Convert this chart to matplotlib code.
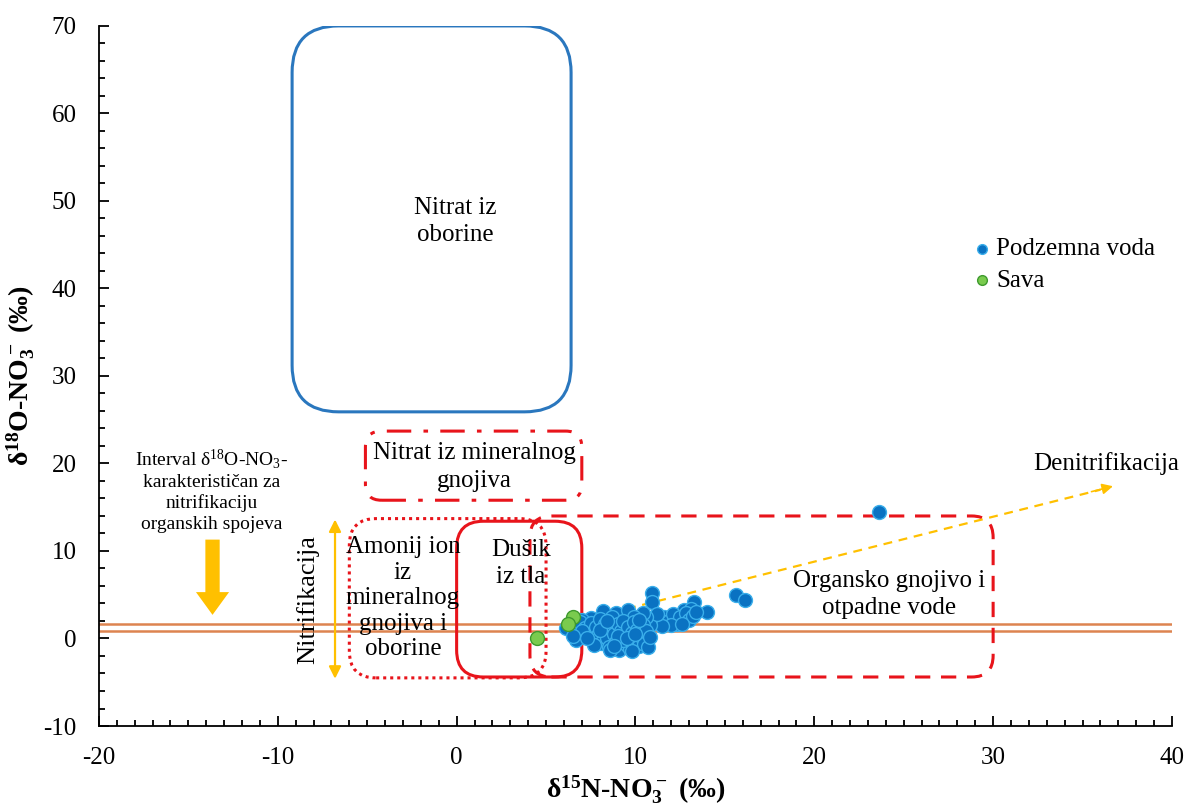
import numpy as np
import matplotlib
matplotlib.use("Agg")
import matplotlib.pyplot as plt
from matplotlib.patches import FancyBboxPatch, FancyArrow

plt.rcParams['font.family'] = ['Liberation Serif', 'DejaVu Serif']
plt.rcParams['mathtext.default'] = 'regular'
plt.rcParams['axes.unicode_minus'] = False

# groundwater samples (d15N, d18O)
gw_x = [23.6, 15.6, 16.1, 10.9, 10.9, 13.3, 12.7, 14.0, 13.1,
        11.0, 11.3, 11.6, 11.9, 12.1, 12.3, 12.5, 12.8, 13.0, 13.2, 12.0,
        11.5, 10.8, 12.6, 13.4, 11.2, 10.6,
        8.9, 8.2, 9.6, 10.4, 9.9, 7.5, 7.0,
        6.1, 6.6, 6.8, 6.9, 7.1, 7.2, 7.4, 7.5, 7.6, 7.8, 7.9, 8.0, 8.1,
        8.2, 8.3, 8.4, 8.5, 8.6, 8.7, 8.8, 8.9, 9.0, 9.1, 9.2, 9.3, 9.4,
        9.5, 9.6, 9.7, 9.8, 9.9, 10.0, 10.1, 10.2, 10.3, 10.4, 10.5, 10.6,
        10.7, 10.8, 6.7, 8.6, 9.8, 7.0, 9.3, 8.0, 10.2, 9.0, 8.4, 7.7, 9.5,
        10.0, 8.8, 7.3, 6.5]
gw_y = [14.4, 5.0, 4.4, 5.2, 4.2, 4.2, 3.3, 3.0, 3.4,
        2.2, 1.8, 2.5, 2.0, 2.8, 1.7, 2.4, 2.9, 2.1, 2.6, 1.5,
        1.4, 1.5, 1.6, 3.0, 2.8, 2.5,
        2.9, 3.1, 3.2, 2.9, 2.5, 2.3, 2.1,
        1.2, 1.4, 0.6, 1.9, 0.2, 1.2, 0.7, 1.8, -0.2, 1.3, 0.4, 2.2, -0.5,
        0.9, 1.7, 0.1, -1.0, 1.2, 2.4, 0.5, -0.4, 1.6, -1.3, 0.9, 2.0, 0.2,
        -0.7, 1.3, -1.2, 0.6, 1.9, -0.3, 1.0, -0.9, 0.3, 1.5, -0.6, 0.8,
        -1.0, 0.2, -0.2, -1.3, -1.4, 0.9, -0.2, 1.0, 2.1, 0.3, 2.0, -0.8, 0.0,
        0.5, -0.9, 0.0, 0.3]

# Sava river samples
sava_x = [6.5, 6.2, 4.5]
sava_y = [2.5, 1.7, 0.1]

# nitrification interval of d18O-NO3
nitr_interval = [0.8, 1.7]

# source boxes: (x0, x1, y0, y1)
box_rain = (-9.2, 6.4, 25.9, 70.0)
box_fert = (-5.1, 7.0, 15.8, 23.7)
box_amon = (-6.0, 5.0, -4.5, 13.7)
box_soil = (0.0, 7.0, -4.4, 13.4)
box_org = (4.1, 30.0, -4.4, 14.0)

red = '#E8141B'
blue_box = '#2A77BE'
gold = '#FFC000'
orange = '#DD8450'

fig = plt.figure(figsize=(11.88, 8.1), dpi=100)
ax = fig.add_axes([0.0833, 0.1037, 0.9032, 0.8643])
ax.set_xlim(-20, 40)
ax.set_ylim(-10, 70)

asp = 17.88 / 8.75


def box(b, r, **kw):
    x0, x1, y0, y1 = b
    p = FancyBboxPatch((x0, y0), x1 - x0, y1 - y0,
                       boxstyle=f"round,pad=0,rounding_size={r}",
                       mutation_aspect=asp, fill=False, **kw)
    ax.add_patch(p)


box(box_rain, 2.6, edgecolor=blue_box, lw=2.2, zorder=2)
box(box_fert, 0.9, edgecolor=red, lw=2.2, linestyle=(0, (8, 4, 1.5, 4)), zorder=2)
box(box_amon, 1.5, edgecolor=red, lw=2.2, linestyle=(0, (1, 1.3)), zorder=2)
box(box_soil, 1.5, edgecolor=red, lw=2.2, zorder=2)
box(box_org, 1.2, edgecolor=red, lw=2.2, linestyle=(0, (5, 3.5)), zorder=2)

for v in nitr_interval:
    ax.axhline(v, color=orange, lw=1.8, zorder=1)

# nitrification double arrow
ax.annotate('', xy=(-6.8, -4.6), xytext=(-6.8, 13.6),
            arrowprops=dict(arrowstyle='<|-|>', color=gold, lw=1.6,
                            mutation_scale=18, shrinkA=0, shrinkB=0))
ax.text(-8.3, 4.5, 'Nitrifikacija', rotation=90, ha='center', va='center', fontsize=19)

# big arrow
ax.add_patch(FancyArrow(-13.65, 11.3, 0, -8.6, width=0.8, head_width=1.85,
                        head_length=2.6, length_includes_head=True,
                        color=gold, lw=0, zorder=3))
ax.text(-13.7, 17.0, 'Interval δ$^{18}$O-NO$_3$-\nkarakterističan za\nnitrifikaciju\norganskih spojeva',
        ha='center', va='center', fontsize=14, linespacing=1.25)

# denitrification arrow
ax.plot([7.0, 36.0], [2.1, 17.0], color=gold, lw=1.6, linestyle=(0, (4, 3)), zorder=3)
ax.annotate('', xy=(36.7, 17.4), xytext=(35.5, 16.78),
            arrowprops=dict(arrowstyle='-|>', color=gold, lw=1.2,
                            mutation_scale=16, shrinkA=0, shrinkB=0))
ax.text(36.3, 20.0, 'Denitrifikacija', ha='center', va='center', fontsize=18)

ax.text(-0.1, 47.6, 'Nitrat iz\noborine', ha='center', va='center', fontsize=18, linespacing=1.3)
ax.text(1.0, 19.6, 'Nitrat iz mineralnog\ngnojiva', ha='center', va='center', fontsize=18, linespacing=1.3)
ax.text(-3.0, 4.6, 'Amonij ion\niz\nmineralnog\ngnojiva i\noborine', ha='center', va='center',
        fontsize=18, linespacing=1.2)
ax.text(3.6, 8.6, 'Dušik\niz tla', ha='center', va='center', fontsize=18, linespacing=1.3)
ax.text(24.2, 5.0, 'Organsko gnojivo i\notpadne vode', ha='center', va='center',
        fontsize=18, linespacing=1.3)

ax.scatter(gw_x, gw_y, s=100, facecolor='#0A72C2', edgecolor='#3AAEEA', lw=1.0,
           zorder=4, label='Podzemna voda')
ax.scatter(sava_x, sava_y, s=100, facecolor='#7ACB4E', edgecolor='#3E9A2E', lw=1.0,
           zorder=5, label='Sava')

leg = ax.legend(loc='upper left', bbox_to_anchor=(0.8, 0.715), frameon=False,
                fontsize=18, markerscale=0.7, handletextpad=0.05, labelspacing=0.35,
                borderpad=0, handlelength=1.0)

ax.spines['top'].set_visible(False)
ax.spines['right'].set_visible(False)
ax.spines['left'].set_linewidth(1.3)
ax.spines['bottom'].set_linewidth(1.3)
ax.set_xticks(np.arange(-20, 41, 10))
ax.set_yticks(np.arange(-10, 71, 10))
ax.set_xticks(np.arange(-20, 41, 1), minor=True)
ax.set_yticks(np.arange(-10, 71, 2), minor=True)
ax.tick_params(which='both', direction='in', width=1.3, labelsize=18)
ax.tick_params(which='major', length=7)
ax.tick_params(which='minor', length=4)
ax.tick_params(axis='x', pad=15)
ax.tick_params(axis='y', pad=16)

ax.set_xlabel('δ$^{15}$N-NO$_3^-$ (‰)', fontsize=20, fontweight='bold', labelpad=3)
ax.set_ylabel('δ$^{18}$O-NO$_3^-$ (‰)', fontsize=20, fontweight='bold', labelpad=5)

fig.savefig('out.png', dpi=100)
